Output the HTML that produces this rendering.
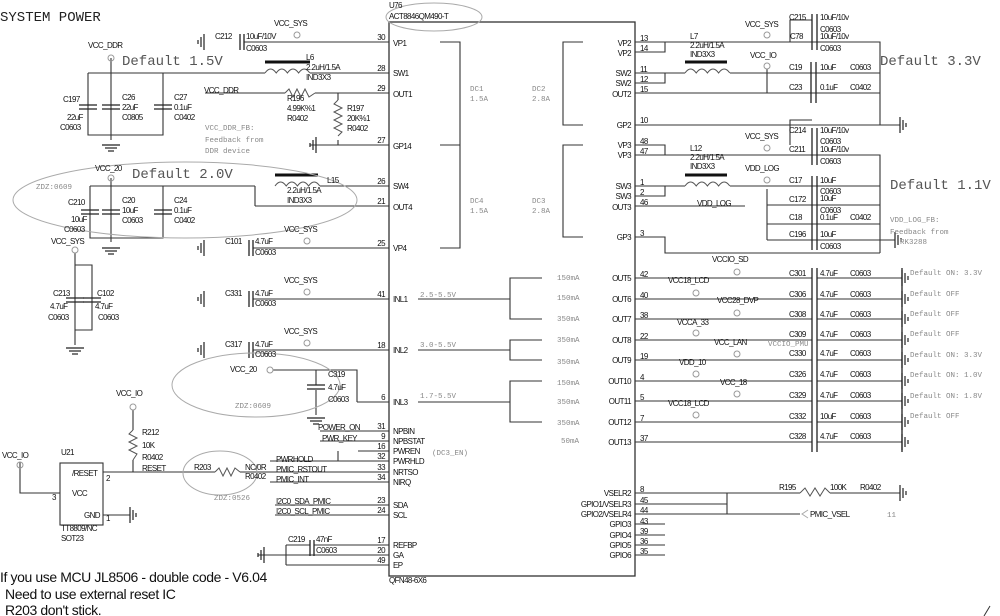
<!DOCTYPE html>
<html><head><meta charset="utf-8"><style>
html,body{margin:0;padding:0;background:#fff;}
svg{display:block;}
text{font-family:"Liberation Sans",sans-serif;font-size:8px;fill:#111;letter-spacing:-0.6px;}
.m{font-family:"Liberation Mono",monospace;fill:#888;letter-spacing:0;font-size:7.5px;}
.big{font-family:"Liberation Mono",monospace;font-size:14px;fill:#555;letter-spacing:0;}
.t{font-size:14px;fill:#111;letter-spacing:-0.4px;}
</style></head><body>
<svg width="1000" height="616" viewBox="0 0 1000 616" xmlns="http://www.w3.org/2000/svg">
<defs>
<g id="gl" stroke="#222" stroke-width="1.2"><line x1="0" y1="-8" x2="0" y2="8"/><line x1="-3" y1="-5" x2="-3" y2="5"/><line x1="-6" y1="-2" x2="-6" y2="2"/></g>
<g id="gr" stroke="#222" stroke-width="1.2"><line x1="0" y1="-8" x2="0" y2="8"/><line x1="3" y1="-5" x2="3" y2="5"/><line x1="6" y1="-2" x2="6" y2="2"/></g>
<g id="gd" stroke="#222" stroke-width="1.2"><line x1="-9" y1="0" x2="9" y2="0"/><line x1="-6" y1="3" x2="6" y2="3"/><line x1="-3" y1="6" x2="3" y2="6"/></g>
<g id="ch" stroke="#222" stroke-width="1.3"><line x1="0" y1="-8" x2="0" y2="8"/><line x1="4" y1="-8" x2="4" y2="8"/></g>
<g id="cv" stroke="#222" stroke-width="1.3"><line x1="-9" y1="0" x2="9" y2="0"/><line x1="-9" y1="4" x2="9" y2="4"/></g>
<circle id="pc" r="3" fill="none" stroke="#999" stroke-width="1"/>
</defs>

<text x="0" y="21" class="big" style="fill:#222">SYSTEM POWER</text>

<rect x="389" y="22" width="246" height="554" fill="none" stroke="#333" stroke-width="1.3"/>
<ellipse cx="434" cy="17" rx="48" ry="14" fill="none" stroke="#aaa"/>
<text x="389" y="8">U76</text><text x="389" y="19">ACT8846QM490-T</text>
<text x="389" y="583">QFN48-6X6</text>

<g stroke="#333" stroke-width="1.1" fill="none">
<path d="M244 42H389 M310 73H389 M315 93H389 M205 93H285 M310 145H389 M320 186H389 M255 206H389 M253 248H389 M253 299H389 M253 350H389 M357 402H389"/>
<path d="M320 431H389 M320 441H389 M358 451H389 M270 461H389 M103 472H215 M240 472H389 M270 482H389 M275 505H389 M275 515H389 M286 545H310 M314 545H389 M258 555H389 M286 565H389 M286 545V565"/>
<path d="M338 451V461"/>
<path d="M88 73H265 M88 73V135H163V73 M111 58V135 M111 135V140"/>
<path d="M90 186H255 M90 186V238H163V186 M111 178V238 M111 238V242 M255 186V206"/>
<path d="M338 93V100 M338 140V145"/>
<path d="M75 253V330 M75 265H92V330H75 M75 330V345"/>
<path d="M273 370H357V402 M316 370V385 M316 390V415"/>
<path d="M133 410V430 M133 460V472 M20 462V493H60 M103 515H130"/>
<rect x="60" y="463" width="43" height="62"/>
<path d="M440 42H460V248H440 M440 145H460"/>
<path d="M583 42H563V125H583 M583 145H563V237H583"/>
<path d="M418 299H510 M542 278H510V319H542 M418 350H510 M542 340H510V360H542 M418 402H510 M542 381H510V422H542"/>
<path d="M635 42H665V52H635 M665 42H880V125 M635 73H665V83H635 M665 73H685 M730 73H880 M635 93H880 M767 69V93 M635 125H900"/>
<path d="M635 145H665V155H635 M665 155H880V253 M635 186H665V196H635 M665 186H685 M730 186H880 M635 206H745 M767 189V240 M767 205H880 M767 224H880 M767 240H895 M635 237H665V253H880"/>
<path d="M635 278H812 M635 299H812 M635 319H812 M635 340H812 M635 360H812 M635 381H812 M635 401H812 M635 422H812 M635 442H812"/>
<path d="M817 278H902 M817 299H902 M817 319H902 M817 340H902 M817 360H902 M817 381H902 M817 401H902 M817 422H902 M817 442H902"/>
<path d="M635 493H800 M830 493H900 M635 504H727 M635 514H800 M727 493V514 M635 524H665 M635 535H665 M635 545H665 M635 555H665"/>
<path d="M812 20H790V42 M812 120H790V145"/>
</g>
<g stroke="#555" fill="none" stroke-width="1">
<path d="M265 73q5.6-8 11.2 0q5.6-8 11.2 0q5.6-8 11.2 0q5.6-8 11.2 0"/>
<path d="M275 186q5.6-8 11.2 0q5.6-8 11.2 0q5.6-8 11.2 0q5.6-8 11.2 0"/>
<path d="M685 73q5.6-8 11.2 0q5.6-8 11.2 0q5.6-8 11.2 0q5.6-8 11.2 0"/>
<path d="M685 186q5.6-8 11.2 0q5.6-8 11.2 0q5.6-8 11.2 0q5.6-8 11.2 0"/>
<path d="M285 93l4-4 4 8 4-8 4 8 4-8 4 8 6-4"/>
<path d="M338 100l-4 4 8 4-8 4 8 4-8 4 8 4-8 4 8 4-4 4"/>
<path d="M133 430l-4 4 8 4-8 4 8 4-8 4 8 4-4 6"/>
<path d="M215 472l4-4 4 8 4-8 4 8 4-8 5 4"/>
<path d="M800 493l5-5 5 8 5-8 5 8 5-8 5 5"/>
</g>
<g stroke="#111" stroke-width="3"><line x1="265" y1="62" x2="310" y2="62"/><line x1="275" y1="175" x2="318" y2="175"/><line x1="685" y1="62" x2="727" y2="62"/><line x1="685" y1="175" x2="727" y2="175"/></g>

<use href="#ch" x="240" y="42"/><use href="#ch" x="249" y="248"/><use href="#ch" x="249" y="299"/><use href="#ch" x="249" y="350"/><use href="#ch" x="310" y="548"/>
<use href="#cv" x="88" y="105"/><use href="#cv" x="111" y="105"/><use href="#cv" x="163" y="105"/>
<use href="#cv" x="90" y="210"/><use href="#cv" x="111" y="210"/><use href="#cv" x="163" y="210"/>
<use href="#cv" x="75" y="298"/><use href="#cv" x="92" y="298"/><use href="#cv" x="316" y="385"/>
<g stroke="#222" stroke-width="1.3">
<line x1="812" y1="14" x2="812" y2="50"/><line x1="817" y1="14" x2="817" y2="50"/>
<line x1="811" y1="62" x2="811" y2="103"/><line x1="816" y1="62" x2="816" y2="103"/>
<line x1="812" y1="128" x2="812" y2="165"/><line x1="817" y1="128" x2="817" y2="165"/>
<line x1="812" y1="176" x2="812" y2="250"/><line x1="817" y1="176" x2="817" y2="250"/>
<line x1="812" y1="268" x2="812" y2="452"/><line x1="817" y1="268" x2="817" y2="452"/>
<line x1="902" y1="268" x2="902" y2="452"/>
</g>
<use href="#gl" x="204" y="42"/><use href="#gl" x="204" y="248"/><use href="#gl" x="204" y="299"/><use href="#gl" x="204" y="350"/><use href="#gl" x="316" y="145"/><use href="#gl" x="264" y="555"/>
<use href="#gd" x="111" y="145"/><use href="#gd" x="111" y="248"/><use href="#gd" x="75" y="348"/><use href="#gd" x="316" y="418"/>
<use href="#gr" x="130" y="515"/><use href="#gr" x="900" y="125"/><use href="#gr" x="895" y="240"/><use href="#gr" x="900" y="493"/>
<use href="#gr" x="902" y="278"/><use href="#gr" x="902" y="299"/><use href="#gr" x="902" y="319"/><use href="#gr" x="902" y="340"/><use href="#gr" x="902" y="360"/><use href="#gr" x="902" y="381"/><use href="#gr" x="902" y="401"/><use href="#gr" x="902" y="422"/><use href="#gr" x="902" y="442"/>
<use href="#pc" x="297" y="35"/><use href="#pc" x="111" y="58"/><use href="#pc" x="111" y="178"/><use href="#pc" x="307" y="241"/><use href="#pc" x="307" y="292"/><use href="#pc" x="307" y="343"/><use href="#pc" x="75" y="250"/><use href="#pc" x="270" y="370"/><use href="#pc" x="133" y="407"/><use href="#pc" x="20" y="465"/>
<use href="#pc" x="767" y="35"/><use href="#pc" x="767" y="66"/><use href="#pc" x="767" y="148"/><use href="#pc" x="767" y="180"/>
<use href="#pc" x="737" y="272"/><use href="#pc" x="696" y="293"/><use href="#pc" x="737" y="313"/><use href="#pc" x="696" y="333"/><use href="#pc" x="737" y="354"/><use href="#pc" x="696" y="374"/><use href="#pc" x="737" y="394"/><use href="#pc" x="696" y="415"/>

<g fill="none" stroke="#aaa"><ellipse cx="185" cy="200" rx="172" ry="38"/><ellipse cx="256" cy="385" rx="84" ry="32"/><ellipse cx="220" cy="473" rx="37" ry="22"/></g>

<text x="122" y="65" class="big">Default 1.5V</text>
<text x="132" y="178" class="big">Default 2.0V</text>
<text x="880" y="65" class="big">Default 3.3V</text>
<text x="890" y="189" class="big">Default 1.1V</text>
<text class="m" x="205" y="130">VCC_DDR_FB:</text><text class="m" x="205" y="142">Feedback from</text><text class="m" x="205" y="153">DDR device</text>
<text class="m" x="36" y="189">ZDZ:0609</text><text class="m" x="235" y="408">ZDZ:0609</text><text class="m" x="214" y="500">ZDZ:0526</text>
<text class="m" x="890" y="222">VDD_LOG_FB:</text><text class="m" x="890" y="234">Feedback from</text><text class="m" x="900" y="244">RK3288</text>
<text class="m" x="470" y="91">DC1</text><text class="m" x="470" y="101">1.5A</text><text class="m" x="532" y="91">DC2</text><text class="m" x="532" y="101">2.8A</text>
<text class="m" x="470" y="203">DC4</text><text class="m" x="470" y="213">1.5A</text><text class="m" x="532" y="203">DC3</text><text class="m" x="532" y="213">2.8A</text>
<text class="m" x="420" y="297">2.5-5.5V</text><text class="m" x="420" y="347">3.0-5.5V</text><text class="m" x="420" y="398">1.7-5.5V</text>
<text class="m" x="432" y="455">(DC3_EN)</text>
<text class="m" x="557" y="280">150mA</text><text class="m" x="557" y="300">150mA</text><text class="m" x="557" y="321">350mA</text><text class="m" x="557" y="342">350mA</text><text class="m" x="557" y="364">350mA</text><text class="m" x="557" y="385">150mA</text><text class="m" x="557" y="404">350mA</text><text class="m" x="557" y="425">350mA</text><text class="m" x="561" y="443">50mA</text>
<text class="m" x="910" y="275">Default ON: 3.3V</text><text class="m" x="910" y="296">Default OFF</text><text class="m" x="910" y="316">Default OFF</text><text class="m" x="910" y="336">Default OFF</text><text class="m" x="910" y="357">Default ON: 3.3V</text><text class="m" x="910" y="377">Default ON: 1.0V</text><text class="m" x="910" y="398">Default ON: 1.8V</text><text class="m" x="910" y="418">Default OFF</text>
<text class="m" x="768" y="346">VCCIO_PMU</text><text class="m" x="887" y="517">11</text>

<text x="393" y="46">VP1</text><text x="393" y="76">SW1</text><text x="393" y="97">OUT1</text><text x="393" y="149">GP14</text><text x="393" y="189">SW4</text><text x="393" y="210">OUT4</text><text x="393" y="251">VP4</text><text x="393" y="302">INL1</text><text x="393" y="353">INL2</text><text x="393" y="405">INL3</text>
<text x="393" y="434">NPBIN</text><text x="393" y="444">NPBSTAT</text><text x="393" y="454">PWREN</text><text x="393" y="464">PWRHLD</text><text x="393" y="475">NRTSO</text><text x="393" y="485">NIRQ</text><text x="393" y="508">SDA</text><text x="393" y="518">SCL</text><text x="393" y="548">REFBP</text><text x="393" y="558">GA</text><text x="393" y="568">EP</text>
<g text-anchor="end"><text x="385" y="40">30</text><text x="385" y="71">28</text><text x="385" y="91">29</text><text x="385" y="143">27</text><text x="385" y="184">26</text><text x="385" y="204">21</text><text x="385" y="246">25</text><text x="385" y="297">41</text><text x="385" y="348">18</text><text x="385" y="400">6</text><text x="385" y="429">31</text><text x="385" y="439">9</text><text x="385" y="449">16</text><text x="385" y="459">32</text><text x="385" y="470">33</text><text x="385" y="480">34</text><text x="385" y="503">23</text><text x="385" y="513">24</text><text x="385" y="543">17</text><text x="385" y="553">20</text><text x="385" y="563">49</text>
<text x="631" y="46">VP2</text><text x="631" y="56">VP2</text><text x="631" y="76">SW2</text><text x="631" y="86">SW2</text><text x="631" y="97">OUT2</text><text x="631" y="128">GP2</text><text x="631" y="148">VP3</text><text x="631" y="158">VP3</text><text x="631" y="189">SW3</text><text x="631" y="199">SW3</text><text x="631" y="210">OUT3</text><text x="631" y="240">GP3</text>
<text x="631" y="281">OUT5</text><text x="631" y="302">OUT6</text><text x="631" y="322">OUT7</text><text x="631" y="343">OUT8</text><text x="631" y="363">OUT9</text><text x="631" y="384">OUT10</text><text x="631" y="404">OUT11</text><text x="631" y="425">OUT12</text><text x="631" y="445">OUT13</text>
<text x="631" y="496">VSELR2</text><text x="631" y="507">GPIO1/VSELR3</text><text x="631" y="517">GPIO2/VSELR4</text><text x="631" y="527">GPIO3</text><text x="631" y="538">GPIO4</text><text x="631" y="548">GPIO5</text><text x="631" y="558">GPIO6</text></g>
<text x="640" y="41">13</text><text x="640" y="51">14</text><text x="640" y="72">11</text><text x="640" y="82">12</text><text x="640" y="92">15</text><text x="640" y="123">10</text><text x="640" y="144">48</text><text x="640" y="154">47</text><text x="640" y="185">1</text><text x="640" y="195">2</text><text x="640" y="205">46</text><text x="640" y="236">3</text>
<text x="640" y="277">42</text><text x="640" y="298">40</text><text x="640" y="318">38</text><text x="640" y="339">22</text><text x="640" y="359">19</text><text x="640" y="380">4</text><text x="640" y="400">5</text><text x="640" y="421">7</text><text x="640" y="441">37</text>
<text x="640" y="492">8</text><text x="640" y="503">45</text><text x="640" y="513">44</text><text x="640" y="524">43</text><text x="640" y="534">39</text><text x="640" y="544">36</text><text x="640" y="554">35</text>

<text x="274" y="26">VCC_SYS</text><text x="215" y="39">C212</text><text x="246" y="39">10uF/10V</text><text x="246" y="51">C0603</text>
<text x="88" y="48">VCC_DDR</text><text x="306" y="60">L6</text><text x="306" y="70">2.2uH/1.5A</text><text x="306" y="80">IND3X3</text>
<text x="204" y="93">VCC_DDR</text><text x="287" y="101">R196</text><text x="287" y="111">4.99K%1</text><text x="287" y="121">R0402</text>
<text x="347" y="111">R197</text><text x="347" y="121">20K%1</text><text x="347" y="131">R0402</text>
<text x="63" y="102">C197</text><text x="67" y="120">22uF</text><text x="60" y="130">C0603</text><text x="122" y="100">C26</text><text x="122" y="110">22uF</text><text x="122" y="120">C0805</text><text x="174" y="100">C27</text><text x="174" y="110">0.1uF</text><text x="174" y="120">C0402</text>
<text x="95" y="171">VCC_20</text><text x="327" y="183">L15</text><text x="287" y="193">2.2uH/1.5A</text><text x="287" y="203">IND3X3</text>
<text x="68" y="205">C210</text><text x="71" y="222">10uF</text><text x="64" y="232">C0603</text><text x="122" y="203">C20</text><text x="122" y="213">10uF</text><text x="122" y="223">C0603</text><text x="174" y="203">C24</text><text x="174" y="213">0.1uF</text><text x="174" y="223">C0402</text>
<text x="51" y="244">VCC_SYS</text><text x="284" y="232">VCC_SYS</text><text x="225" y="244">C101</text><text x="255" y="244">4.7uF</text><text x="255" y="255">C0603</text>
<text x="53" y="296">C213</text><text x="97" y="296">C102</text><text x="50" y="309">4.7uF</text><text x="48" y="320">C0603</text><text x="95" y="309">4.7uF</text><text x="98" y="320">C0603</text>
<text x="284" y="283">VCC_SYS</text><text x="225" y="296">C331</text><text x="255" y="296">4.7uF</text><text x="255" y="306">C0603</text>
<text x="284" y="334">VCC_SYS</text><text x="225" y="347">C317</text><text x="255" y="347">4.7uF</text><text x="255" y="357">C0603</text>
<text x="230" y="372">VCC_20</text><text x="328" y="377">C319</text><text x="328" y="390">4.7uF</text><text x="328" y="402">C0603</text>
<text x="116" y="396">VCC_IO</text><text x="142" y="435">R212</text><text x="142" y="448">10K</text><text x="142" y="460">R0402</text><text x="142" y="471">RESET</text>
<text x="2" y="458">VCC_IO</text><text x="61" y="455">U21</text><text x="72" y="476">/RESET</text><text x="72" y="496">VCC</text><text x="84" y="518">GND</text><text x="106" y="481">2</text><text x="52" y="500">3</text><text x="106" y="521">1</text><text x="61" y="531">TT8809/NC</text><text x="61" y="541">SOT23</text>
<text x="194" y="470">R203</text><text x="245" y="470">NC/0R</text><text x="245" y="479">R0402</text>
<text x="318" y="430">POWER_ON</text><text x="322" y="441">PWR_KEY</text><text x="276" y="462">PWRHOLD</text><text x="276" y="472">PMIC_RSTOUT</text><text x="276" y="482">PMIC_INT</text><text x="276" y="504">I2C0_SDA_PMIC</text><text x="276" y="514">I2C0_SCL_PMIC</text>
<text x="288" y="542">C219</text><text x="316" y="542">47nF</text><text x="316" y="553">C0603</text>
<text x="0" y="582" class="t">If you use MCU JL8506 - double code - V6.04</text>
<text x="5" y="599" class="t">Need to use external reset IC</text>
<text x="5" y="615" class="t">R203 don't stick.</text>

<text x="745" y="27">VCC_SYS</text><text x="789" y="20">C215</text><text x="820" y="20">10uF/10v</text><text x="820" y="32">C0603</text><text x="790" y="39">C78</text><text x="820" y="39">10uF/10v</text><text x="820" y="51">C0603</text>
<text x="690" y="39">L7</text><text x="690" y="48">2.2uH/1.5A</text><text x="690" y="57">IND3X3</text><text x="750" y="58">VCC_IO</text>
<text x="789" y="70">C19</text><text x="820" y="70">10uF</text><text x="850" y="70">C0603</text><text x="789" y="90">C23</text><text x="820" y="90">0.1uF</text><text x="850" y="90">C0402</text>
<text x="745" y="139">VCC_SYS</text><text x="789" y="133">C214</text><text x="820" y="133">10uF/10v</text><text x="820" y="144">C0603</text><text x="789" y="152">C211</text><text x="820" y="152">10uF/10v</text><text x="820" y="164">C0603</text>
<text x="690" y="151">L12</text><text x="690" y="160">2.2uH/1.5A</text><text x="690" y="169">IND3X3</text><text x="745" y="171">VDD_LOG</text><text x="697" y="206">VDD_LOG</text>
<text x="789" y="183">C17</text><text x="820" y="183">10uF</text><text x="820" y="194">C0603</text><text x="789" y="202">C172</text><text x="820" y="201">10uF</text><text x="820" y="213">C0603</text><text x="789" y="220">C18</text><text x="820" y="220">0.1uF</text><text x="850" y="220">C0402</text><text x="789" y="237">C196</text><text x="820" y="237">10uF</text><text x="820" y="249">C0603</text>
<text x="712" y="262">VCCIO_SD</text><text x="668" y="283">VCC18_LCD</text><text x="717" y="303">VCC28_DVP</text><text x="677" y="325">VCCA_33</text><text x="714" y="345">VCC_LAN</text><text x="679" y="365">VDD_10</text><text x="720" y="385">VCC_18</text><text x="668" y="406">VCC18_LCD</text>
<g><text x="789" y="276">C301</text><text x="789" y="297">C306</text><text x="789" y="317">C308</text><text x="789" y="337">C309</text><text x="789" y="356">C330</text><text x="789" y="377">C326</text><text x="789" y="398">C329</text><text x="789" y="419">C332</text><text x="789" y="439">C328</text></g>
<g><text x="820" y="276">4.7uF</text><text x="820" y="297">4.7uF</text><text x="820" y="317">4.7uF</text><text x="820" y="337">4.7uF</text><text x="820" y="356">4.7uF</text><text x="820" y="377">4.7uF</text><text x="820" y="398">4.7uF</text><text x="820" y="419">10uF</text><text x="820" y="439">4.7uF</text></g>
<g><text x="850" y="276">C0603</text><text x="850" y="297">C0603</text><text x="850" y="317">C0603</text><text x="850" y="337">C0603</text><text x="850" y="356">C0603</text><text x="850" y="377">C0603</text><text x="850" y="398">C0603</text><text x="850" y="419">C0603</text><text x="850" y="439">C0603</text></g>
<text x="779" y="490">R195</text><text x="830" y="490">100K</text><text x="860" y="490">R0402</text><text x="810" y="517">PMIC_VSEL</text>
<path d="M808 510l-6 4 6 4" fill="none" stroke="#aaa"/>
<path d="M990 606l-6 10" stroke="#333"/>
</svg>
</body></html>
